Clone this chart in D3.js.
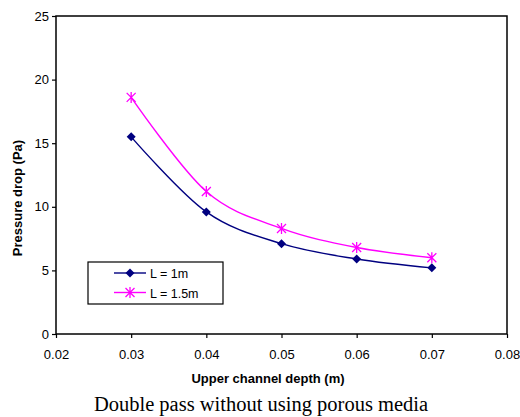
<!DOCTYPE html>
<html>
<head>
<meta charset="utf-8">
<script src="https://cdn.jsdelivr.net/npm/d3@7"></script>
<style>
body { margin: 0; background: #fff; }
svg { display: block; }
.tick text { font-family: "Liberation Sans", Arial, sans-serif; font-size: 13px; fill: #000; }
</style>
</head>
<body>
<div id="chart"></div>
<script>
// chart values
var depths = [0.03, 0.04, 0.05, 0.06, 0.07];
var drop1m = [15.5, 9.6, 7.1, 5.9, 5.2];
var drop15m = [18.6, 11.2, 8.3, 6.8, 6.0];
var seriesNames = ["L = 1m", "L = 1.5m"];
var xTicks = [0.02, 0.03, 0.04, 0.05, 0.06, 0.07, 0.08];
var yTicks = [0, 5, 10, 15, 20, 25];

var width = 520, height = 417,
	plotLeft = 56, plotRight = 507, plotTop = 16, plotBottom = 334;

var svg = d3.select("#chart").append("svg")
	.attr("width", width)
	.attr("height", height);

var x = d3.scaleLinear().domain([0.02, 0.08]).range([plotLeft, plotRight]);
var y = d3.scaleLinear().domain([0, 25]).range([plotBottom, plotTop]);

// frame
svg.append("rect")
	.attr("x", plotLeft).attr("y", plotTop)
	.attr("width", plotRight - plotLeft).attr("height", plotBottom - plotTop)
	.attr("fill", "none").attr("stroke", "#000").attr("stroke-width", 1.5);

var xAxis = svg.append("g")
	.attr("transform", "translate(0," + plotBottom + ")")
	.call(d3.axisBottom(x).tickValues(xTicks).tickSize(4).tickPadding(12).tickFormat(d3.format(".2f")));
var yAxis = svg.append("g")
	.attr("transform", "translate(" + plotLeft + ",0)")
	.call(d3.axisLeft(y).tickValues(yTicks).tickSize(4).tickPadding(3));
[xAxis, yAxis].forEach(function(a) {
	a.select(".domain").remove();
	a.selectAll(".tick line").attr("stroke", "#000").attr("stroke-width", 1.2);
});

// axis titles
svg.append("text")
	.attr("x", 268).attr("y", 383)
	.attr("text-anchor", "middle")
	.attr("font-family", "Liberation Sans, Arial, sans-serif")
	.attr("font-size", 13).attr("font-weight", "bold")
	.text("Upper channel depth (m)");
svg.append("text")
	.attr("transform", "translate(22,198) rotate(-90)")
	.attr("text-anchor", "middle")
	.attr("font-family", "Liberation Sans, Arial, sans-serif")
	.attr("font-size", 13).attr("font-weight", "bold")
	.text("Pressure drop (Pa)");
svg.append("text")
	.attr("x", 261).attr("y", 411)
	.attr("text-anchor", "middle")
	.attr("font-family", "Liberation Serif, Times New Roman, serif")
	.attr("font-size", 20.5)
	.text("Double pass without using porous media");

var line = d3.line()
	.x(function(d) { return x(d[0]); })
	.y(function(d) { return y(d[1]); })
	.curve(d3.curveCatmullRom.alpha(0));

var series = [
	{ name: seriesNames[0], vals: drop1m, color: "#000080", marker: "diamond" },
	{ name: seriesNames[1], vals: drop15m, color: "#ff00ff", marker: "star" }
];

var drawMarker = function(g, kind, color) {
	if (kind == "diamond") {
		g.append("path").attr("d", "M0,-4.5L4.5,0L0,4.5L-4.5,0Z").attr("fill", color);
	} else {
		g.append("path")
			.attr("d", "M-4.5,-4.5L4.5,4.5M-4.5,4.5L4.5,-4.5M0,-5.5L0,5.5")
			.attr("stroke", color).attr("stroke-width", 1.3).attr("fill", "none");
	}
};

series.forEach(function(s) {
	var pts = depths.map(function(d, i) { return [d, s.vals[i]]; });
	svg.append("path")
		.attr("d", line(pts))
		.attr("fill", "none")
		.attr("stroke", s.color)
		.attr("stroke-width", 1.4);
	pts.forEach(function(p) {
		var g = svg.append("g").attr("transform", "translate(" + x(p[0]) + "," + y(p[1]) + ")");
		drawMarker(g, s.marker, s.color);
	});
});

// legend
var legend = svg.append("g");
legend.append("rect")
	.attr("x", 88).attr("y", 262).attr("width", 135).attr("height", 42)
	.attr("fill", "#fff").attr("stroke", "#000").attr("stroke-width", 1.2);
series.forEach(function(s, i) {
	var ly = 273 + i * 19.5;
	legend.append("line")
		.attr("x1", 114).attr("x2", 146).attr("y1", ly).attr("y2", ly)
		.attr("stroke", s.color).attr("stroke-width", 1.4);
	var g = legend.append("g").attr("transform", "translate(130," + ly + ")");
	drawMarker(g, s.marker, s.color);
	legend.append("text")
		.attr("x", 150).attr("y", ly + 5)
		.attr("font-family", "Liberation Sans, Arial, sans-serif")
		.attr("font-size", 12.5)
		.text(s.name);
});
</script>
</body>
</html>
